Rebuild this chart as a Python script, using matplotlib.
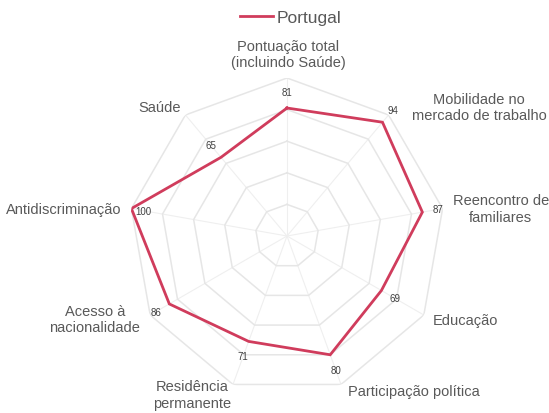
import numpy as np
import matplotlib
matplotlib.use("Agg")
import matplotlib.pyplot as plt

plt.rcParams["font.family"] = ["Liberation Sans", "DejaVu Sans"]

# MIPEX scores for Portugal, one per policy area (clockwise from the top)
categories = [
    "Pontuação total\n(incluindo Saúde)",
    "Mobilidade no\nmercado de trabalho",
    "Reencontro de\nfamiliares",
    "Educação",
    "Participação política",
    "Residência\npermanente",
    "Acesso à\nnacionalidade",
    "Antidiscriminação",
    "Saúde",
]
scores = [81, 94, 87, 69, 80, 71, 86, 100, 65]
series_name = "Portugal"
ring_levels = [20, 40, 60, 80, 100]

# label placement: (offset x px, offset y px, horizontal alignment)
label_layout = [
    (1, 24, "center"),
    (23, 8, "left"),
    (10, 0, "left"),
    (9, -5, "left"),
    (7, -7, "left"),
    (-41, -10, "center"),
    (-10, -4, "right"),
    (-10, 0, "right"),
    (-5, 8, "right"),
]

line_color = "#d03c5c"
grid_color = "#e6e6e6"
spoke_color = "#efefef"
text_color = "#595959"

W, H, DPI = 549, 414, 100
fig = plt.figure(figsize=(W / DPI, H / DPI), dpi=DPI)

cx, cy, R = 287, 237, 158
ax = fig.add_axes([(cx - R) / W, (H - cy - R) / H, 2 * R / W, 2 * R / H],
                  projection="polar")
ax.set_theta_offset(np.pi / 2)
ax.set_theta_direction(-1)
ax.set_ylim(0, 100)
ax.grid(False)
ax.set_xticks([])
ax.set_yticks([])
ax.spines["polar"].set_visible(False)
ax.patch.set_alpha(0)

n = len(categories)
theta = np.arange(n) * 2 * np.pi / n
theta_closed = np.append(theta, theta[0])

# polygonal grid rings and spokes
for t in theta:
    ax.plot([t, t], [0, ring_levels[-1]], color=spoke_color, lw=0.8, zorder=1)
for lvl in ring_levels:
    ax.plot(theta_closed, [lvl] * (n + 1), color=grid_color, lw=1.1, zorder=2)

# data polygon
vals_closed = np.append(scores, scores[0])
ax.plot(theta_closed, vals_closed, color=line_color, lw=2.0, zorder=3,
        label=series_name, solid_joinstyle="miter")

# value labels
for t, v in zip(theta, scores):
    r = v + 10 if v + 10 <= 105 else v - 8
    ax.text(t, r, str(v), ha="center", va="center", fontsize=7,
            color="#404040", zorder=4)

# category labels
for t, lab, (dx, dy, ha) in zip(theta, categories, label_layout):
    ax.annotate(lab, xy=(t, 100), xytext=(dx, dy), textcoords="offset pixels",
                ha=ha, va="center", multialignment="center",
                fontsize=10.5, color=text_color, annotation_clip=False)

fig.legend(loc="center", bbox_to_anchor=(291 / W, 1 - 18 / H), frameon=False,
           fontsize=12.5, handlelength=1.9, handletextpad=0.2,
           labelcolor=text_color)

fig.savefig("out.png", dpi=DPI)
